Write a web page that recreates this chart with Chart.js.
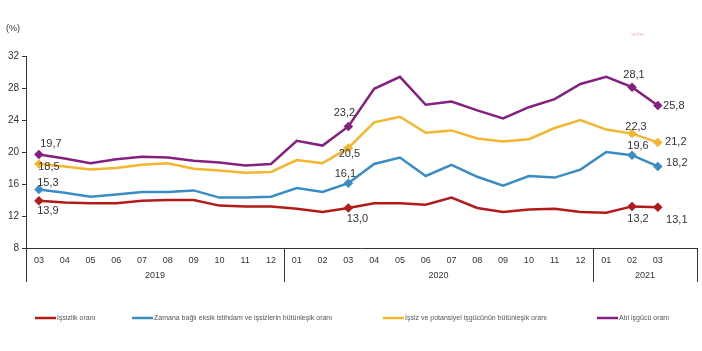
<!DOCTYPE html>
<html>
<head>
<meta charset="utf-8">
<script src="https://cdn.jsdelivr.net/npm/chart.js@4"></script>
<style>
  html, body { margin: 0; padding: 0; background: #fff; }
  #wrap { width: 702px; height: 351px; position: relative; }
</style>
</head>
<body>
<div id="wrap"><canvas id="labourChart" width="702" height="351"></canvas></div>
<script>
// --- DATA ---
// Months 03/2019 .. 03/2021, plus one empty slot at the end like the original
const months = ['03','04','05','06','07','08','09','10','11','12',
                '01','02','03','04','05','06','07','08','09','10','11','12',
                '01','02','03',''];
const years = [
  { label: '2019', from: 0, to: 9 },
  { label: '2020', from: 10, to: 21 },
  { label: '2021', from: 22, to: 25 }
];

const unemployment = [13.9,13.7,13.6,13.6,13.9,14.0,14.0,13.3,13.2,13.2,
                      12.9,12.5,13.0,13.6,13.6,13.4,14.3,13.0,12.5,12.8,12.9,12.5,
                      12.4,13.2,13.1,null];
const timeRelated = [15.3,14.9,14.4,14.7,15.0,15.0,15.2,14.3,14.3,14.4,
                     15.5,15.0,16.1,18.5,19.3,17.0,18.4,16.9,15.8,17.0,16.8,17.8,
                     20.0,19.6,18.2,null];
const potential = [18.5,18.2,17.8,18.0,18.4,18.6,17.9,17.7,17.4,17.5,
                   19.0,18.6,20.5,23.7,24.4,22.4,22.7,21.7,21.3,21.6,23.0,24.0,
                   22.8,22.3,21.2,null];
const underused = [19.7,19.2,18.6,19.1,19.4,19.3,18.9,18.7,18.3,18.5,
                   21.4,20.8,23.2,27.9,29.4,25.9,26.3,25.2,24.2,25.6,26.6,28.5,
                   29.4,28.1,25.8,null];

const seriesNames = ['İşsizlik oranı',
                     'Zamana bağlı eksik istihdam ve işsizlerin bütünleşik oranı',
                     'İşsiz ve potansiyel işgücünün bütünleşik oranı',
                     'Atıl işgücü oranı'];
const yTicks = [8, 12, 16, 20, 24, 28, 32];

// points that carry a marker and a value label
const markedIdx = [0, 12, 23, 24];

// label offsets (px) from the point, per dataset, per marked index
const labelOffsets = [
  { 0: [9, 10], 12: [9, 11], 23: [6, 13], 24: [19, 13] },
  { 0: [9, -7], 12: [-3, -9], 23: [6, -9], 24: [19, -3] },
  { 0: [10, 3], 12: [1, 6], 23: [4, -7], 24: [18, 0] },
  { 0: [12, -10], 12: [-4, -13], 23: [2, -12], 24: [16, 0] }
];

const colors = ['#b31b1b', '#3a8cc4', '#f2b631', '#84207f'];

function mkSet(i, data) {
  return {
    label: seriesNames[i],
    data: data,
    borderColor: colors[i],
    backgroundColor: colors[i],
    borderWidth: 2.5,
    tension: 0,
    pointStyle: 'rectRot',
    pointRadius: (c) => markedIdx.includes(c.dataIndex) ? 3 : 0,
    pointHoverRadius: 0,
    spanGaps: false
  };
}

// --- DRAWING EXTRAS: value labels, year rows, title, legend ---
const extras = {
  id: 'extras',
  afterDatasetsDraw(chart) {
    const c = chart.ctx;
    c.save();
    c.font = '11px "Liberation Sans", Arial, sans-serif';
    c.fillStyle = '#333';
    c.textAlign = 'center';
    c.textBaseline = 'middle';
    chart.data.datasets.forEach((ds, i) => {
      const meta = chart.getDatasetMeta(i);
      markedIdx.forEach(idx => {
        const p = meta.data[idx];
        const off = labelOffsets[i][idx];
        const txt = ds.data[idx].toFixed(1).replace('.', ',');
        c.fillText(txt, p.x + off[0], p.y + off[1]);
      });
    });
    c.restore();
  },
  afterDraw(chart) {
    const c = chart.ctx;
    const x = chart.scales.x;
    const area = chart.chartArea;
    c.save();

    // group separators below the axis
    c.strokeStyle = '#333';
    c.lineWidth = 1;
    const seps = [area.left, (x.getPixelForValue(9) + x.getPixelForValue(10)) / 2,
                  (x.getPixelForValue(21) + x.getPixelForValue(22)) / 2, area.right];
    seps.forEach(sx => {
      c.beginPath();
      c.moveTo(Math.round(sx) + 0.5, area.bottom);
      c.lineTo(Math.round(sx) + 0.5, area.bottom + 34);
      c.stroke();
    });

    // year labels
    c.font = '9px "Liberation Sans", Arial, sans-serif';
    c.fillStyle = '#333';
    c.textAlign = 'center';
    c.textBaseline = 'middle';
    years.forEach((y, k) => {
      const l = k === 0 ? area.left : seps[k];
      const r = seps[k + 1];
      c.fillText(y.label, (l + r) / 2, area.bottom + 28);
    });

    // unit title
    c.font = '9px "Liberation Sans", Arial, sans-serif';
    c.textAlign = 'left';
    c.fillText('(%)', 6, 29);

    // faint source mark
    c.font = '7px "Liberation Serif", serif';
    c.fillStyle = '#f2b8c4';
    c.fillText('anbe', 631, 34);

    // legend
    const legendX = [35, 132, 383, 597];
    const ly = 318;
    c.font = '7px "Liberation Sans", Arial, sans-serif';
    c.textBaseline = 'middle';
    chart.data.datasets.forEach((ds, i) => {
      c.strokeStyle = colors[i];
      c.lineWidth = 2.5;
      c.beginPath();
      c.moveTo(legendX[i], ly);
      c.lineTo(legendX[i] + 21, ly);
      c.stroke();
      c.fillStyle = '#555';
      c.fillText(ds.label, legendX[i] + 22, ly);
    });
    c.restore();
  }
};

// --- BUILD THE CHART ---
const ctx = document.getElementById('labourChart').getContext('2d');
const labourChart = new Chart(ctx, {
  type: 'line',
  data: {
    labels: months,
    datasets: [mkSet(0, unemployment), mkSet(1, timeRelated), mkSet(2, potential), mkSet(3, underused)]
  },
  options: {
    responsive: false,
    animation: false,
    layout: { padding: { top: 56, right: 5, left: 0, bottom: 0 } },
    plugins: { legend: { display: false }, tooltip: { enabled: false } },
    scales: {
      x: {
        offset: true,
        grid: { display: false, drawTicks: false },
        border: { display: true, color: '#333', width: 1 },
        ticks: {
          color: '#333',
          font: { size: 9, family: '"Liberation Sans", Arial, sans-serif' },
          padding: 7,
          maxRotation: 0,
          autoSkip: false
        },
        afterFit: (s) => { s.height = 103; }
      },
      y: {
        min: 8,
        max: 32,
        afterBuildTicks: (s) => { s.ticks = yTicks.map(v => ({ value: v })); },
        grid: { drawOnChartArea: false, drawTicks: true, tickLength: 4, color: '#333' },
        border: { display: true, color: '#333', width: 1 },
        ticks: {
          color: '#333',
          font: { size: 10, family: '"Liberation Sans", Arial, sans-serif' },
          padding: 3
        },
        afterFit: (s) => { s.width = 26; }
      }
    }
  },
  plugins: [extras]
});
</script>
</body>
</html>
